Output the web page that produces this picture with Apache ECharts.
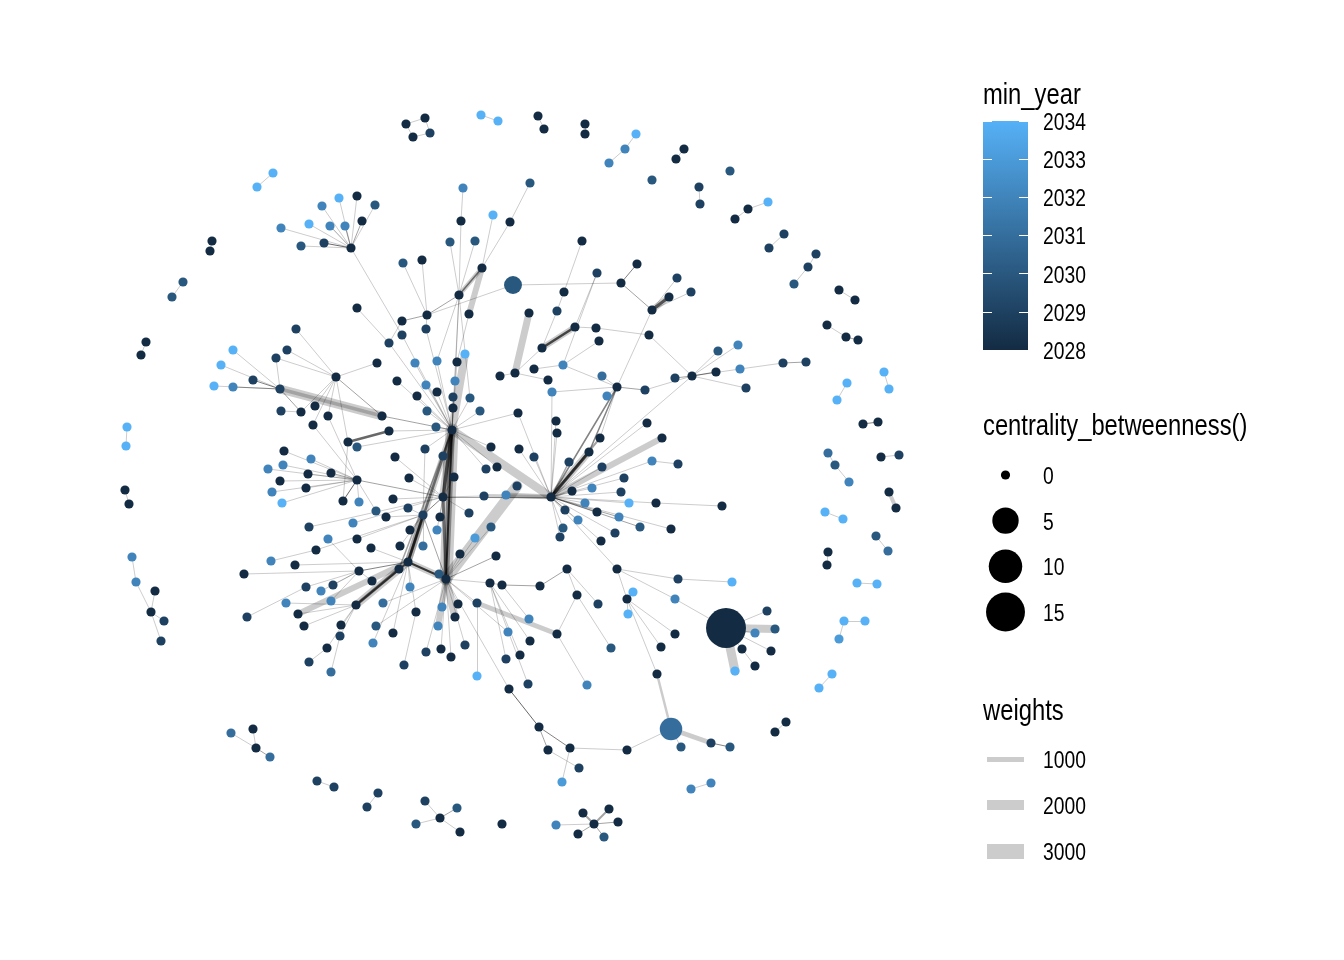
<!DOCTYPE html>
<html>
<head>
<meta charset="utf-8">
<script src="https://cdn.jsdelivr.net/npm/echarts@6/dist/echarts.min.js"></script>
<style>
  html, body { margin: 0; padding: 0; background: #fff; }
  #chart { width: 1344px; height: 960px; }
</style>
</head>
<body>
<div id="chart"></div>
<script>
// node layout: [x, y, min_year, centrality_betweenness]
const nodes = [
  // 0-3
  [406,124,2028,0],[425,118,2028,0],[430,133,2029,0],[413,137,2028,0],
  // 4-9
  [481,115,2034,0],[498,121,2034,0],[538,116,2028,0],[544,129,2028,0],[585,124,2028,0],[585,134,2028,0],
  // 10-13
  [636,134,2034,0],[625,149,2032,0],[609,163,2032,0],[652,180,2030,0],
  // 14-18
  [684,149,2028,0],[676,159,2028,0],[730,171,2030,0],[699,187,2029,0],[700,204,2029,0],
  // 19-23
  [768,202,2034,0],[748,209,2028,0],[735,219,2028,0],[784,234,2029,0],[769,248,2029,0],
  // 24-31
  [816,254,2029,0],[808,267,2029,0],[794,284,2030,0],[839,290,2028,0],[855,300,2028,0],[827,325,2028,0],[846,337,2028,0],[858,340,2028,0],
  // 32-37
  [847,383,2034,0],[837,400,2034,0],[884,372,2034,0],[889,389,2034,0],[863,424,2028,0],[878,422,2028,0],
  // 38-44
  [828,453,2031,0],[835,465,2030,0],[849,482,2032,0],[881,457,2028,0],[899,455,2029,0],[889,492,2028,0],[896,508,2028,0],
  // 45-52
  [825,512,2034,0],[843,519,2034,0],[876,536,2030,0],[888,551,2031,0],[828,552,2028,0],[827,565,2028,0],[857,583,2034,0],[877,584,2034,0],
  // 53-61
  [844,621,2034,0],[865,621,2034,0],[839,639,2033,0],[832,674,2034,0],[819,688,2034,0],[786,722,2028,0],[775,732,2028,0],[711,783,2032,0],[691,789,2032,0],
  // 62-68
  [594,824,2028,0],[583,813,2028,0],[609,809,2028,0],[618,822,2028,0],[578,834,2028,0],[604,837,2030,0],[556,825,2032,0],
  // 69-78
  [502,824,2028,0],[440,818,2028,0],[425,801,2029,0],[457,808,2030,0],[416,824,2030,0],[460,832,2028,0],[378,793,2029,0],[367,807,2029,0],[317,781,2029,0],[334,787,2029,0],
  // 79-88
  [253,729,2028,0],[231,733,2031,0],[256,748,2028,0],[270,757,2031,0],[132,557,2032,0],[136,582,2032,0],[155,591,2028,0],[151,612,2028,0],[164,621,2029,0],[161,641,2029,0],
  // 89-100
  [125,490,2028,0],[129,504,2028,0],[127,427,2034,0],[126,446,2034,0],[146,342,2028,0],[141,355,2028,0],[183,282,2030,0],[172,297,2030,0],[212,241,2028,0],[210,251,2028,0],[273,173,2034,0],[257,187,2034,0],
  // 101-112
  [351,248,2028,0],[281,228,2032,0],[309,224,2034,0],[322,206,2032,0],[339,198,2034,0],[357,196,2028,0],[375,205,2030,0],[330,226,2032,0],[345,226,2032,0],[362,221,2028,0],[324,243,2029,0],[301,246,2030,0],
  // 113-129
  [463,188,2032,0],[461,221,2028,0],[459,295,2028,0],[493,215,2034,0],[510,222,2028,0],[530,183,2030,0],[482,268,2028,0],[450,242,2030,0],[475,241,2030,0],[403,263,2030,0],[422,260,2028,0],[469,314,2028,0],[427,315,2028,0],[402,321,2028,0],[402,335,2029,0],[426,329,2029,0],[389,343,2029,0],
  // 130-146
  [513,285,2030,1.3],[582,241,2028,0],[564,292,2028,0],[597,273,2029,0],[637,264,2028,0],[621,283,2028,0],[529,313,2028,0],[557,311,2029,0],[575,327,2028,0],[596,328,2028,0],[599,341,2028,0],[542,348,2028,0],[652,310,2028,0],[669,297,2028,0],[677,278,2029,0],[691,292,2029,0],[649,335,2028,0],
  // 147-163
  [415,363,2032,0],[437,361,2032,0],[457,362,2028,0],[465,354,2034,0],[397,381,2028,0],[426,385,2032,0],[455,381,2032,0],[437,392,2028,0],[417,396,2028,0],[453,397,2029,0],[470,398,2030,0],[427,411,2030,0],[453,408,2028,0],[480,411,2030,0],[436,427,2030,0],[382,416,2028,0],[389,431,2028,0],
  // 164-174
  [452,430,2028,0],[425,449,2029,0],[395,457,2028,0],[443,456,2029,0],[491,447,2028,0],[519,449,2028,0],[534,457,2029,0],[486,469,2029,0],[497,467,2028,0],[454,477,2028,0],[409,478,2028,0],
  // 175-190
  [443,497,2028,0],[393,499,2028,0],[408,508,2029,0],[423,515,2029,0],[386,517,2028,0],[440,517,2028,0],[469,513,2029,0],[484,496,2029,0],[506,495,2032,0],[517,486,2029,0],[437,530,2032,0],[410,530,2028,0],[491,527,2030,0],[475,538,2033,0],[400,546,2028,0],[423,546,2031,0],
  // 191-205
  [408,562,2028,0],[399,569,2028,0],[410,587,2032,0],[439,574,2030,0],[446,579,2028,0],[460,554,2028,0],[496,556,2028,0],[490,583,2028,0],[502,585,2028,0],[540,586,2028,0],[567,569,2028,0],[617,569,2028,0],[577,595,2028,0],[633,592,2034,0],[627,599,2028,0],
  // 206-215
  [515,373,2028,0],[500,376,2028,0],[534,369,2028,0],[548,380,2028,0],[563,365,2032,0],[552,392,2032,0],[602,376,2031,0],[607,396,2032,0],[617,387,2028,0],[645,390,2029,0],
  // 216-228
  [518,413,2028,0],[556,421,2028,0],[557,433,2028,0],[647,423,2028,0],[600,438,2028,0],[589,452,2028,0],[569,462,2029,0],[602,467,2029,0],[624,478,2029,0],[592,488,2032,0],[572,491,2028,0],[621,492,2029,0],[629,503,2034,0],
  // 229-239
  [551,497,2028,0],[585,503,2032,0],[597,512,2028,0],[565,510,2029,0],[619,517,2032,0],[578,520,2032,0],[640,527,2030,0],[563,528,2030,0],[560,537,2029,0],[615,533,2029,0],[601,541,2028,0],
  // 240-248
  [662,438,2028,0],[652,461,2032,0],[678,464,2029,0],[656,503,2028,0],[722,506,2028,0],[671,529,2028,0],[678,579,2029,0],[732,582,2034,0],[675,599,2032,0],
  // 249-257
  [692,376,2028,0],[718,351,2030,0],[738,345,2032,0],[675,378,2029,0],[716,372,2028,0],[740,369,2032,0],[746,388,2029,0],[783,363,2029,0],[806,362,2029,0],
  // 258-268
  [726,628,2028,16],[767,611,2029,0],[775,629,2030,0],[755,633,2032,0],[742,649,2028,0],[755,666,2028,0],[771,651,2028,0],[735,671,2034,0],[675,634,2028,0],[661,647,2028,0],[657,674,2028,0],
  // 269-279
  [671,729,2031,3],[681,747,2030,0],[711,743,2029,0],[730,747,2030,0],[627,750,2028,0],[570,748,2028,0],[548,750,2028,0],[539,727,2028,0],[579,768,2029,0],[562,782,2033,0],[509,689,2028,0],
  // 280-293
  [383,603,2031,0],[416,612,2028,0],[393,633,2028,0],[404,665,2029,0],[442,607,2032,0],[458,604,2028,0],[455,617,2028,0],[438,626,2032,0],[426,652,2029,0],[441,649,2028,0],[451,657,2028,0],[465,645,2029,0],[477,603,2029,0],[477,676,2034,0],
  // 294-304
  [508,632,2032,0],[529,619,2032,0],[530,641,2028,0],[506,659,2029,0],[520,655,2028,0],[528,684,2029,0],[557,634,2028,0],[598,604,2029,0],[628,614,2034,0],[611,648,2030,0],[587,685,2032,0],
  // 305-320
  [233,350,2034,0],[221,365,2034,0],[214,386,2034,0],[233,387,2032,0],[253,380,2029,0],[280,389,2029,0],[276,358,2029,0],[287,350,2029,0],[296,329,2029,0],[336,377,2028,0],[377,363,2028,0],[281,411,2029,0],[301,412,2028,0],[315,406,2028,0],[328,416,2028,0],[313,425,2028,0],
  // 321-336
  [348,442,2028,0],[357,447,2030,0],[284,451,2028,0],[311,459,2032,0],[283,465,2032,0],[268,469,2032,0],[308,474,2028,0],[280,481,2028,0],[331,473,2028,0],[357,480,2028,0],[306,488,2028,0],[272,492,2032,0],[282,503,2034,0],[343,501,2028,0],[359,502,2032,0],[376,511,2030,0],
  // 337-350
  [309,527,2029,0],[353,523,2032,0],[328,539,2032,0],[357,539,2028,0],[371,548,2028,0],[316,550,2028,0],[271,561,2032,0],[295,565,2028,0],[244,574,2028,0],[359,571,2028,0],[372,581,2028,0],[306,587,2029,0],[321,591,2032,0],[333,585,2029,0],
  // 351-364
  [247,617,2029,0],[286,603,2032,0],[298,614,2028,0],[304,626,2028,0],[331,601,2032,0],[356,605,2028,0],[341,625,2028,0],[340,636,2029,0],[327,648,2028,0],[309,662,2029,0],[331,672,2031,0],[376,626,2030,0],[373,643,2032,0],[357,308,2028,0]
];

// edges: [from, to, weights, parallel links]; weights defaults to 200, links to 1
const outerEdges = [
  [0,1],[1,2],[0,3],[3,2],[4,5],[6,7],[8,9],[10,11],[11,12],[14,15],[17,18],[19,20],[20,21],[22,23],
  [24,25],[25,26],[27,28],[29,30],[30,31,200,2],[32,33],[34,35],[36,37,200,3],[38,39],[39,40],[41,42],
  [43,44,800],[45,46],[47,48],[49,50],[51,52],[53,54],[53,55],[56,57],[58,59],[60,61],
  [62,63,400,2],[62,64,400,2],[62,65,200,2],[62,66,200,2],[62,67,200,2],[62,68],
  [70,71],[70,72,200,2],[70,73],[70,74],[75,76],[77,78],[79,81],[80,81],[81,82,200,2],
  [83,84],[84,86],[85,86],[86,87],[86,88],[89,90],[91,92],[93,94],[95,96],[97,98],[99,100],
  [101,102],[101,103],[101,104],[101,105],[101,106],[101,107],[101,108,200,2],[101,109,200,2],
  [101,110,200,2],[101,111,200,4],[101,112],[101,127]
];

const topEdges = [
  [113,114],[114,115],[115,120],[115,121],[115,119,300,3],[119,115,900],[115,125,200,2],[122,125],[123,125],[125,128],
  [125,126,200,2],[126,129],[116,119],[117,119],[118,117],[119,124,1200],[124,149],[115,164],[115,153],
  [115,148],[115,157],[127,164],[128,164],[129,164],[364,129],[130,125],[130,135],[131,132],[132,137],[137,141],
  [134,135,200,3],[135,142,200,2],[142,143,600,4],[142,143,1200],[142,144],[142,145],[142,214],[133,210],[140,210],
  [138,141,500,5],[138,141,1200],[138,139],[139,146],[136,206,1400],[141,206],[206,207],[206,209],[208,210],[133,138]
];

const coreEdges = [
  [164,147],[164,148],[164,149],[164,150,1600],[164,151],[164,152],[164,153],[164,154],[164,155],[164,156],
  [164,157],[164,158],[164,159],[164,160],[164,161],[164,162,200,2],[164,165],[164,167],[164,168],[164,171],
  [164,172],[164,163],[164,175,700,4],[164,175,1600],[164,195,400,6],[164,195,1200,2],[164,195,2600],
  [164,229,1700],[164,216],[164,191,500,3],[164,191,1300],[164,192,300,2],
  [175,173],[175,174],[175,176],[175,180],[175,181],[175,182],[175,185],[175,167],[175,166],[175,330,200,2],
  [175,229,200,2],[175,195,600,3],[175,178,200,3],[175,337],[175,338],
  [178,177],[178,179],[178,186],[178,189],[178,190],[178,165],[178,340],[178,342],[178,191,500,5],[178,191,1400],[178,195,200,2],
  [191,192],[191,193],[191,341],[191,344],[191,346,200,3],[191,356,400,4],[191,356,1500],[191,195,400,6],[191,195,1300],
  [191,281],[191,282],[191,363],[192,356,600,3],[353,191,1200],
  [195,184,2200],[195,188],[195,194],[195,196],[195,197,200,2],[195,198],[195,187],[195,279],[195,284],[195,285],
  [195,286,1500],[195,287,1200],[195,288],[195,289],[195,290],[195,291],[195,292],[195,280],[195,362],[195,294]
];

const lowerEdges = [
  [199,200,200,2],[200,201,200,2],[198,199],[201,203],[203,300],[300,292,1000],[300,304],[301,201],[302,205],
  [303,203],[204,205],[205,202],[202,229],[202,246],[246,247],[248,202],[248,258],[266,205],[267,205],
  [268,205],[268,269,500],[258,259],[258,260,1600],[258,261],[258,262],[258,264],[258,265,1800],[262,263],
  [269,270],[269,271,1000],[271,272,200,3],[269,273],[273,274],[274,276,200,3],[274,278],[276,275,200,2],
  [275,277],[276,279,200,4],[283,281],[293,292],[295,199],[296,198],[297,198],[298,198],[299,198]
];

const rightEdges = [
  [229,221,600,5],[229,221,1400],[221,214,300,3],[229,214,300,3],[229,220,400,2],[229,222,300,2],
  [229,226],[229,225],[229,230],[229,231,200,2],[229,232],
  [229,233,200,2],[229,234],[229,235,200,2],[229,236],[229,237],[229,238],[229,239],[229,240,1200],[229,227],
  [229,228],[229,223],[229,224],[229,182,800],[229,183,1000],[229,169],[229,170],[229,216],[229,217],[229,218],
  [229,219],[229,241],[229,243],[229,245],[229,249],[229,211],[241,242],[243,244],
  [214,212],[214,213],[214,215,200,2],[214,211],[214,220],[214,210],
  [249,250],[249,251],[249,252,200,2],[249,253,200,3],[249,254],[249,255],[254,256],[256,257,200,2],[146,249],[215,249]
];

const leftEdges = [
  [305,310],[306,310],[307,310],[308,310,200,2],[309,310,200,3],[310,162,1800],[310,162,700],[310,311],[310,317,200,2],
  [311,314],[312,314],[313,314],[314,315],[314,162,200,2],[314,317],[314,318],[314,319],[314,320],[316,317],
  [314,321],[319,330],[320,330],[321,163,500,4],[321,334],[322,164],
  [330,323],[330,324],[330,325],[330,326],[330,327],[330,328],[330,329,200,2],[330,331],[330,332],[330,333],
  [330,334,200,4],[330,335],[330,336],
  [339,346],[342,343],[345,346],[346,347],[346,348],[346,349],[346,350],[346,355],[351,348],
  [356,352],[356,353],[356,354],[356,357],[356,358],[356,359],[360,359],[361,358]
];

const yearBreaks = [2028, 2029, 2030, 2031, 2032, 2033, 2034];
const betweennessBreaks = [0, 5, 10, 15];
const weightBreaks = [1000, 2000, 3000];

const lowColor = '#132B43';
const highColor = '#56B1F7';
const FONT = '"Liberation Sans", Arial, sans-serif';
const NARROW = 0.82;

const maxBetween = Math.max(...nodes.map(n => n[3]));
function nodeDiameter(b) {
  const size = 1 + 5 * Math.sqrt(b / maxBetween);
  return 2.16 * (size * 2.845 + 0.945) + 1;
}
const edgeWidth = w => w / 200;
const edgeOpacity = n => 1 - Math.pow(0.8, n);

const allEdges = [...outerEdges, ...topEdges, ...coreEdges, ...lowerEdges, ...rightEdges, ...leftEdges];
const edgeData = allEdges.map(([a, b, w = 200, n = 1]) => ({
  coords: [[nodes[a][0], nodes[a][1]], [nodes[b][0], nodes[b][1]]],
  lineStyle: { width: edgeWidth(w), opacity: edgeOpacity(n) }
}));

const chart = echarts.init(document.getElementById('chart'));
const hiddenAxisParts = { axisLine: { show: false }, splitLine: { show: false }, axisLabel: { show: false } };

chart.setOption({
  animation: false,
  backgroundColor: '#fff',
  grid: [
    { left: 0, top: 0, width: 1344, height: 960 },
    { left: 983, top: 121, width: 45, height: 229 },
    { left: 983, top: 475, width: 45, height: 137 },
    { left: 987, top: 759, width: 37, height: 92 }
  ],
  xAxis: [
    { gridIndex: 0, type: 'value', min: 0, max: 1344, show: false },
    { gridIndex: 1, type: 'value', min: 0, max: 1, show: false },
    { gridIndex: 2, type: 'value', min: 0, max: 1, show: false },
    { gridIndex: 3, type: 'value', min: 0, max: 1, show: false }
  ],
  yAxis: [
    { gridIndex: 0, type: 'value', min: 0, max: 960, inverse: true, show: false },
    Object.assign({
      gridIndex: 1, type: 'value', position: 'left', min: yearBreaks[0], max: yearBreaks[yearBreaks.length - 1], interval: 1, z: 5,
      axisTick: { inside: true, length: 9, lineStyle: { color: '#fff', width: 1 } }
    }, hiddenAxisParts),
    Object.assign({
      gridIndex: 1, type: 'value', position: 'right', min: yearBreaks[0], max: yearBreaks[yearBreaks.length - 1], interval: 1, z: 5,
      axisTick: { inside: true, length: 9, lineStyle: { color: '#fff', width: 1 } }
    }, hiddenAxisParts),
    Object.assign({
      gridIndex: 2, type: 'category', inverse: true, boundaryGap: false,
      data: betweennessBreaks.map(String), axisTick: { show: false }
    }, hiddenAxisParts),
    Object.assign({
      gridIndex: 3, type: 'category', inverse: true, boundaryGap: false,
      data: weightBreaks.map(String), axisTick: { show: false }
    }, hiddenAxisParts)
  ],
  visualMap: [{
    type: 'continuous', show: false, seriesIndex: 1, dimension: 2,
    min: yearBreaks[0], max: yearBreaks[yearBreaks.length - 1],
    inRange: { color: [lowColor, highColor] }
  }],
  series: [
    {
      type: 'lines', coordinateSystem: 'cartesian2d', xAxisIndex: 0, yAxisIndex: 0,
      silent: true, z: 1, clip: false, data: edgeData,
      lineStyle: { color: '#000', cap: 'round' }
    },
    {
      type: 'scatter', xAxisIndex: 0, yAxisIndex: 0, z: 2, silent: true, clip: false,
      data: nodes, encode: { x: 0, y: 1 },
      symbol: 'circle', symbolSize: v => nodeDiameter(v[3]),
      itemStyle: { opacity: 1 }
    },
    {
      type: 'custom', xAxisIndex: 1, yAxisIndex: 1, z: 2, silent: true, clip: false,
      data: [[0, yearBreaks[0]]],
      renderItem: (params, api) => {
        const lo = api.coord([0, yearBreaks[0]]);
        const hi = api.coord([1, yearBreaks[yearBreaks.length - 1]]);
        return {
          type: 'rect',
          shape: { x: lo[0], y: hi[1], width: hi[0] - lo[0], height: lo[1] - hi[1] },
          style: {
            fill: {
              type: 'linear', x: 0, y: 1, x2: 0, y2: 0,
              colorStops: [{ offset: 0, color: lowColor }, { offset: 1, color: highColor }]
            }
          }
        };
      }
    },
    {
      type: 'scatter', xAxisIndex: 2, yAxisIndex: 3, silent: true, clip: false,
      data: betweennessBreaks.map((b, i) => [0.5, i, b]),
      symbolSize: v => nodeDiameter(v[2]),
      itemStyle: { color: '#000', opacity: 1 }
    },
    {
      type: 'lines', coordinateSystem: 'cartesian2d', xAxisIndex: 3, yAxisIndex: 4, silent: true, clip: false,
      data: weightBreaks.map((w, i) => ({
        coords: [[0, i], [1, i]],
        lineStyle: { width: edgeWidth(w) }
      })),
      lineStyle: { color: '#000', opacity: 0.2, cap: 'butt' }
    }
  ]
});

// legend text: condensed like the original, placed from the legend axes
const TEXT_DROP = 2.5;
function legendText(text, x, y, fontSize) {
  return {
    type: 'text', x, y: y + TEXT_DROP, scaleX: NARROW, silent: true,
    style: { text, fontFamily: FONT, fontSize, fill: '#000', align: 'left', verticalAlign: 'middle' }
  };
}
const px = (axis, v) => chart.convertToPixel(axis, v);
const legendLeft = px({ xAxisIndex: 1 }, 0);
const labels = [
  legendText('min_year', legendLeft, 93, 29),
  legendText('centrality_betweenness()', legendLeft, 424, 29),
  legendText('weights', legendLeft, 709, 29),
  ...yearBreaks.map(v => legendText(String(v), px({ xAxisIndex: 1 }, 1) + 15, px({ yAxisIndex: 2 }, v), 23.5)),
  ...betweennessBreaks.map((b, i) => legendText(String(b), px({ xAxisIndex: 2 }, 1) + 15, px({ yAxisIndex: 3 }, i), 23.5)),
  ...weightBreaks.map((w, i) => legendText(String(w), px({ xAxisIndex: 3 }, 1) + 19, px({ yAxisIndex: 4 }, i), 23.5))
];
chart.setOption({ graphic: labels });
</script>
</body>
</html>
